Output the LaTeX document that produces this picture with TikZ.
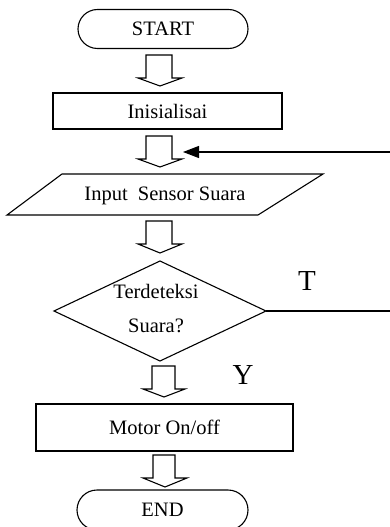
\documentclass[tikz,border=0pt]{standalone}
\usepackage{fontspec}
\setmainfont{Liberation Serif}
\usetikzlibrary{shapes.misc,arrows.meta}

% hollow block arrow pointing down:
% #1 shaft left, #2 shaft right, #3 head left, #4 head right, #5 tip x,
% #6 shaft top, #7 head base, #8 tip y
\newcommand{\hollowdown}[8]{%
  \draw[blockline] (#1,#6) -- (#2,#6) -- (#2,#7) -- (#4,#7) -- (#5,#8)
    -- (#3,#7) -- (#1,#7) -- cycle;}

\tikzset{
  blockline/.style={line width=1.1pt, line join=miter, fill=white},
  terminal/.style={draw, line width=1.1pt, rounded rectangle, inner sep=0pt},
  procbox/.style={draw, line width=1.1pt, rectangle, inner sep=0pt},
  label/.style={inner sep=0pt, font=\fontsize{20.5}{34}\selectfont},
  biglabel/.style={inner sep=0pt, font=\fontsize{29}{34}\selectfont},
  flowline/.style={line width=1.1pt},
}

\begin{document}
\begin{tikzpicture}[x=1pt, y=-1pt, font=\fontsize{20.5}{31}\selectfont]
\useasboundingbox (0,0) rectangle (390,527);
\begin{scope}
\clip (0,0) rectangle (390,527);

% terminals and process boxes
\node[terminal, minimum width=170pt, minimum height=39pt] (start) at (163,29) {START};
\node[procbox, minimum width=229pt, minimum height=36pt] (init) at (167.5,111) {Inisialisai};

% input parallelogram
\draw[flowline] (62,174) -- (323,174) -- (258,215) -- (7,215) -- cycle;
\node[label] (input) at (165,196) {Input\ \ Sensor Suara};

% decision diamond
\draw[flowline] (160,261) -- (266,311) -- (160,361) -- (54,311) -- cycle;
\node[label, align=center] (dec) at (156,309) {Terdeteksi\\Suara?};
\coordinate (decR) at (266,311);

\node[procbox, minimum width=257pt, minimum height=47pt] (motor) at (164.5,427.5) {Motor On/off};
\node[terminal, minimum width=171pt, minimum height=40pt] (end) at (162.5,510) {END};

% block arrows between the steps
\hollowdown{146}{172}{138}{182}{160}{55}{78}{86}
\hollowdown{146}{172}{138}{182}{160}{136}{159}{167}
\hollowdown{146}{172}{138}{182}{160}{221}{244}{253}
\hollowdown{152}{175}{143}{185}{164}{366}{389}{397}
\hollowdown{153}{175}{143}{187}{165}{455}{478}{487}

% branch labels
\node[biglabel] (tlab) at (307,281) {T};
\node[biglabel] (ylab) at (243,375) {Y};

% loop back from the "T" branch
\coordinate (rightT) at (392,311);
\coordinate (rightBack) at (392,152);
\coordinate (backTip) at (183,152);
\draw[flowline] (decR) -- (rightT);
\draw[flowline, -{Triangle[length=16pt,width=12pt]}] (rightBack) -- (backTip);
\end{scope}
\end{tikzpicture}
\end{document}
